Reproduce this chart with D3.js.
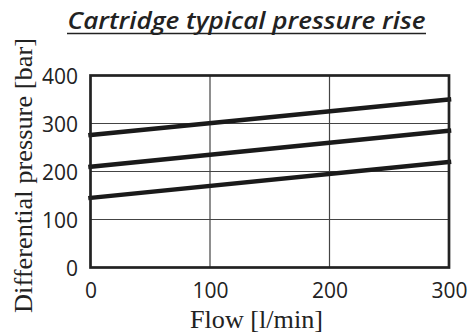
<!DOCTYPE html>
<html>
<head>
<meta charset="utf-8">
<script src="https://cdn.jsdelivr.net/npm/d3@7"></script>
<style>
  html, body { margin: 0; padding: 0; background: #fff; }
  svg { display: block; }
</style>
</head>
<body>
<svg id="chart" width="471" height="333"></svg>
<script>
// Flow values (l/min) at which each curve is given
const flow = [0, 300];
// Differential pressure (bar) for the three cartridge settings
const seriesLow = [145, 220];
const seriesMid = [210, 285];
const seriesHigh = [276, 350];
const series = [seriesLow, seriesMid, seriesHigh];
// Axis ticks
const xTicks = [0, 100, 200, 300];
const yTicks = [0, 100, 200, 300, 400];
const xGrid = [100, 200];
const yGrid = [100, 200, 300];

const svg = d3.select("#chart");
const ink = "#222";

const x = d3.scaleLinear().domain([0, 300]).range([90.5, 449]);
const y = d3.scaleLinear().domain([0, 400]).range([267.5, 75.5]);

// Title with underline
svg.append("text")
  .attr("x", 246.5).attr("y", 29)
  .attr("text-anchor", "middle")
  .attr("font-family", "'Open Sans', sans-serif")
  .attr("font-weight", 600)
  .attr("font-style", "italic")
  .attr("font-size", 23)
  .attr("fill", ink)
  .attr("textLength", 358)
  .attr("lengthAdjust", "spacingAndGlyphs")
  .text("Cartridge typical pressure rise");
svg.append("line")
  .attr("x1", 67).attr("x2", 426)
  .attr("y1", 33.5).attr("y2", 33.5)
  .attr("stroke", ink).attr("stroke-width", 1.5);

// Grid lines
const grid = svg.append("g").attr("stroke", "#444").attr("stroke-width", 1.2);
grid.selectAll("line.h").data(yGrid).join("line")
  .attr("class", "h")
  .attr("x1", x(0)).attr("x2", x(300))
  .attr("y1", d => y(d)).attr("y2", d => y(d));
grid.selectAll("line.v").data(xGrid).join("line")
  .attr("class", "v")
  .attr("x1", d => x(d)).attr("x2", d => x(d))
  .attr("y1", y(0)).attr("y2", y(400));

// Pressure curves
const line = d3.line().x((d, i) => x(flow[i])).y(d => y(d));
svg.append("g").selectAll("path").data(series).join("path")
  .attr("d", line)
  .attr("fill", "none")
  .attr("stroke", "#1a1a1a")
  .attr("stroke-width", 4.5)
  .attr("stroke-linecap", "square");

// Plot frame
svg.append("rect")
  .attr("x", x(0)).attr("y", y(400))
  .attr("width", x(300) - x(0)).attr("height", y(0) - y(400))
  .attr("fill", "none")
  .attr("stroke", ink)
  .attr("stroke-width", 2.7);

// Tick labels via d3 axes
const tickFont = "'Open Sans', sans-serif";
const xAxis = svg.append("g")
  .attr("transform", `translate(0,${y(0)})`)
  .call(d3.axisBottom(x).tickValues(xTicks).tickSize(0).tickFormat(d3.format("d")));
xAxis.select(".domain").remove();
xAxis.selectAll("text")
  .attr("y", 30.5).attr("dy", 0)
  .attr("font-family", tickFont).attr("font-size", 21).attr("fill", ink);

const yAxis = svg.append("g")
  .attr("transform", `translate(${x(0)},0)`)
  .call(d3.axisLeft(y).tickValues(yTicks).tickSize(0).tickFormat(d3.format("d")));
yAxis.select(".domain").remove();
yAxis.selectAll("text")
  .attr("x", -12.5).attr("dy", 7.5)
  .attr("font-family", tickFont).attr("font-size", 21).attr("fill", ink);

// Axis titles
svg.append("text")
  .attr("x", 256.5).attr("y", 328)
  .attr("text-anchor", "middle")
  .attr("font-family", "'Liberation Serif', serif")
  .attr("font-size", 25)
  .attr("fill", ink)
  .attr("textLength", 133)
  .attr("lengthAdjust", "spacingAndGlyphs")
  .text("Flow [l/min]");

svg.append("text")
  .attr("transform", "translate(32,175.5) rotate(-90)")
  .attr("text-anchor", "middle")
  .attr("font-family", "'Liberation Serif', serif")
  .attr("font-size", 25)
  .attr("fill", ink)
  .attr("textLength", 275)
  .attr("lengthAdjust", "spacingAndGlyphs")
  .text("Differential pressure [bar]");
</script>
</body>
</html>
